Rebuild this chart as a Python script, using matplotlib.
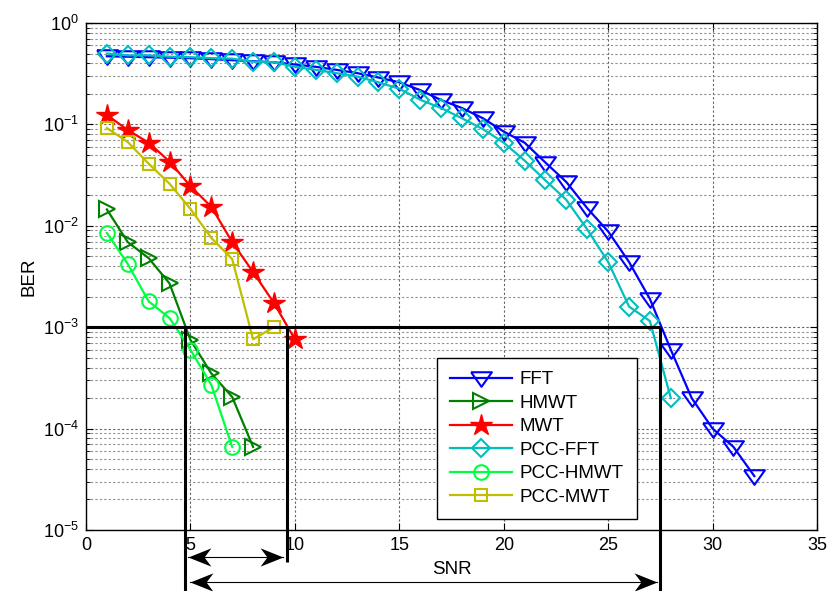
import matplotlib
matplotlib.use("Agg")
import matplotlib.pyplot as plt
from matplotlib.ticker import LogLocator, FixedLocator, NullFormatter

plt.rcParams["font.family"] = ["Liberation Sans", "DejaVu Sans"]
plt.rcParams["mathtext.fontset"] = "custom"
plt.rcParams["mathtext.rm"] = "Liberation Sans"
plt.rcParams["mathtext.it"] = "Liberation Sans:italic"
plt.rcParams["mathtext.default"] = "regular"

# BER vs SNR
snr_fft = list(range(1, 33))
ber_fft = [0.47, 0.465, 0.46, 0.455, 0.45, 0.44, 0.43, 0.42, 0.41, 0.39,
           0.37, 0.345, 0.32, 0.29, 0.26, 0.218, 0.174, 0.145, 0.115, 0.085,
           0.066, 0.042, 0.027, 0.0149, 0.0088, 0.0044, 0.0019, 0.0006,
           0.0002, 1.0e-4, 6.6e-5, 3.4e-5]

snr_hmwt = list(range(1, 9))
ber_hmwt = [0.0145, 0.0069, 0.0048, 0.0027, 0.00075, 0.00035, 0.000205, 6.6e-5]

snr_mwt = list(range(1, 11))
ber_mwt = [0.124, 0.088, 0.066, 0.043, 0.0246, 0.0154, 0.0069, 0.0035,
           0.00173, 0.00076]

snr_pcc_fft = list(range(1, 29))
ber_pcc_fft = [0.50, 0.48, 0.48, 0.465, 0.46, 0.45, 0.445, 0.415, 0.41, 0.37,
               0.345, 0.32, 0.296, 0.26, 0.225, 0.175, 0.145, 0.115, 0.09,
               0.066, 0.044, 0.028, 0.018, 0.0092, 0.0044, 0.0016, 0.00115,
               0.0002]

snr_pcc_hmwt = list(range(1, 8))
ber_pcc_hmwt = [0.0085, 0.0042, 0.0018, 0.00123, 0.0006, 0.00027, 6.6e-5]

snr_pcc_mwt = list(range(1, 10))
ber_pcc_mwt = [0.092, 0.067, 0.041, 0.026, 0.0147, 0.0076, 0.0047, 0.00076,
               0.001]

# 1e-3 reference level and the SNRs where the curves cross it
ber_target = 1e-3
snr_cross_hmwt = 4.72
snr_cross_mwt = 9.62
snr_cross_fft = 27.5

TRI_DOWN = [(-1, 0.6), (1, 0.6), (0, -0.8), (-1, 0.6)]
HEAD_LEFT = [(0, 0), (1, 0.4), (0.7, 0), (1, -0.4), (0, 0)]
HEAD_RIGHT = [(0, 0), (-1, 0.4), (-0.7, 0), (-1, -0.4), (0, 0)]

FS = 13.5

fig = plt.figure(figsize=(8.32, 5.91), dpi=100)
ax = fig.add_axes([86 / 832, 1 - 530 / 591, 731 / 832, 507 / 591])

lw = 1.6
mew = 1.5
ax.plot(snr_fft, ber_fft, color="#0000ff", lw=lw, marker=TRI_DOWN, ms=15,
        mfc="none", mew=mew, label="FFT")
ax.plot(snr_hmwt, ber_hmwt, color="#008000", lw=lw, marker=">", ms=11,
        mfc="none", mew=mew, label="HMWT")
ax.plot(snr_mwt, ber_mwt, color="#ff0000", lw=lw, marker="*", ms=16,
        mfc="#ff0000", mew=1.0, label="MWT")
ax.plot(snr_pcc_fft, ber_pcc_fft, color="#00bfbf", lw=lw, marker="D", ms=9.5,
        mfc="none", mew=mew, label="PCC-FFT")
ax.plot(snr_pcc_hmwt, ber_pcc_hmwt, color="#00ff40", lw=lw, marker="o", ms=10.5,
        mfc="none", mew=mew, label="PCC-HMWT")
ax.plot(snr_pcc_mwt, ber_pcc_mwt, color="#bfbf00", lw=lw, marker="s", ms=8.5,
        mfc="none", mew=mew, label="PCC-MWT")

ax.set_yscale("log")
ax.set_xlim(0, 35)
ax.set_ylim(1e-5, 1)
ax.xaxis.set_major_locator(FixedLocator(range(0, 36, 5)))
ax.yaxis.set_major_locator(LogLocator(base=10, numticks=10))
ax.yaxis.set_minor_locator(LogLocator(base=10, subs=range(2, 10), numticks=10))
ax.yaxis.set_minor_formatter(NullFormatter())

ax.grid(True, which="major", axis="both", color="#606060", ls=(0, (2, 2)), lw=0.8)
ax.grid(True, which="minor", axis="y", color="#909090", ls=(0, (2, 2)), lw=0.8)
ax.tick_params(which="both", direction="in", top=True, right=True,
               labelsize=13, color="black")
ax.tick_params(which="major", length=5, pad=5)
ax.tick_params(which="minor", length=3)
for s in ax.spines.values():
    s.set_linewidth(1.0)

ax.set_xlabel("SNR", fontsize=FS, labelpad=5)
ax.set_ylabel("BER", fontsize=FS, labelpad=4)

# reference lines at BER = 1e-3, extended below the axes
blk = dict(color="black", lw=2.2, clip_on=False, zorder=5,
           solid_capstyle="butt")
ax.plot([0, snr_cross_fft], [ber_target, ber_target], **blk)
xt = ax.get_xaxis_transform()
y_target = 0.4  # 1e-3 in axes fraction
bottom = -0.13
ax.plot([snr_cross_hmwt] * 2, [y_target, bottom], transform=xt, **blk)
ax.plot([snr_cross_mwt] * 2, [y_target, -0.063], transform=xt, **blk)
ax.plot([snr_cross_fft] * 2, [y_target, bottom], transform=xt, **blk)


def double_arrow(x0, x1, y):
    ax.plot([x0, x1], [y, y], color="black", lw=0.8, transform=xt,
            clip_on=False, zorder=6)
    ax.plot([x0], [y], marker=HEAD_LEFT, ms=33, color="black", mew=0,
            transform=xt, clip_on=False, zorder=6)
    ax.plot([x1], [y], marker=HEAD_RIGHT, ms=33, color="black", mew=0,
            transform=xt, clip_on=False, zorder=6)


double_arrow(snr_cross_hmwt + 0.15, snr_cross_mwt - 0.2, -0.053)
double_arrow(snr_cross_hmwt + 0.25, snr_cross_fft - 0.15, -0.1026)

leg = ax.legend(loc="lower left", bbox_to_anchor=(0.48, 0.022),
                borderaxespad=0, fontsize=FS, handlelength=3.3,
                handletextpad=0.4, labelspacing=0.34, borderpad=0.7,
                fancybox=False, framealpha=1, edgecolor="black")
leg.get_frame().set_linewidth(1.0)
leg.set_zorder(7)

fig.savefig("out.png", dpi=100)
